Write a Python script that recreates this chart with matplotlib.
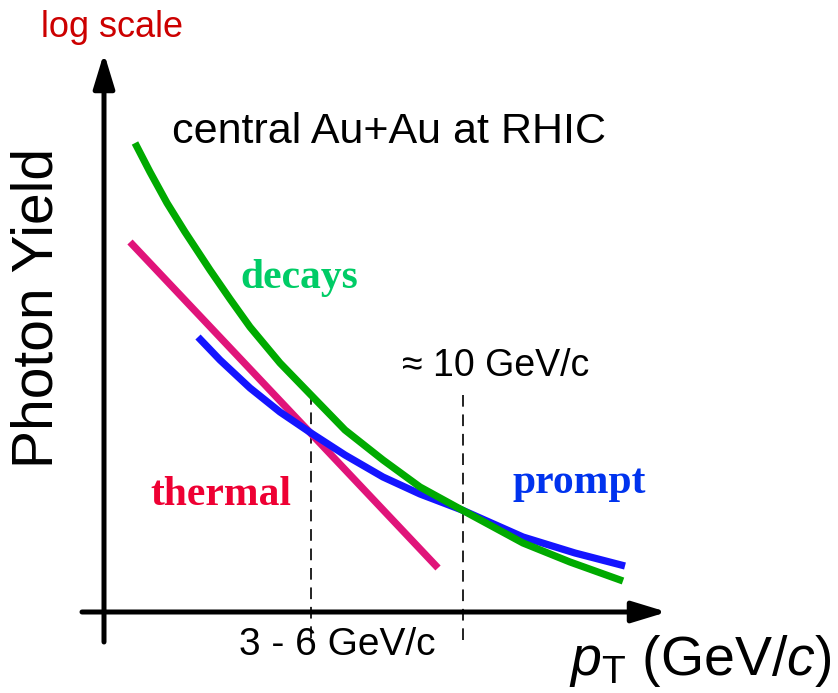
import matplotlib
matplotlib.use("Agg")
import matplotlib.pyplot as plt

# ---- schematic data (arbitrary units: x ~ pT, y ~ log yield) ----
decays_x = [0.62, 0.92, 1.26, 1.62, 2.12, 2.52, 2.92, 3.52, 4.14, 4.82,
            5.58, 6.32, 7.16, 8.38, 9.32, 10.38]
decays_y = [9.38, 8.80, 8.18, 7.60, 6.84, 6.26, 5.70, 4.98, 4.34, 3.64,
            3.04, 2.50, 2.04, 1.38, 1.00, 0.62]

prompt_x = [1.88, 2.32, 2.92, 3.52, 4.14, 4.82, 5.58, 6.32, 7.16, 8.38,
            9.42, 10.42]
prompt_y = [5.50, 5.04, 4.48, 4.00, 3.58, 3.14, 2.70, 2.36, 2.04, 1.50,
            1.18, 0.92]

thermal_x = [0.52, 6.68]
thermal_y = [7.40, 0.88]

marker_x = [4.14, 7.18]          # dashed guides (3-6 GeV/c, ~10 GeV/c)
marker_top = [4.38, 4.34]
marker_labels = ["3 - 6 GeV/c", "\u2248 10 GeV/c"]

plt.rcParams['font.family'] = ['Liberation Sans', 'DejaVu Sans']
plt.rcParams['mathtext.fontset'] = 'custom'
plt.rcParams['mathtext.rm'] = 'Liberation Sans'
plt.rcParams['mathtext.it'] = 'Liberation Sans:italic'

fig = plt.figure(figsize=(8.38, 6.93), dpi=100)
ax = fig.add_axes([0, 0, 1, 1])
ax.set_xlim(-2.08, 14.68)
ax.set_ylim(-1.62, 12.24)
ax.axis('off')

# axes arrows
arrow_kw = dict(arrowstyle='-|>,head_length=1.05,head_width=0.32',
                lw=3.6, color='black', mutation_scale=20,
                shrinkA=0, shrinkB=0)
ax.annotate('', xy=(11.26, 0), xytext=(-0.44, 0), arrowprops=arrow_kw)
ax.annotate('', xy=(0, 11.18), xytext=(0, -0.6), arrowprops=arrow_kw)

# dashed guides
for xm, yt in zip(marker_x, marker_top):
    ax.plot([xm, xm], [yt, -0.6], color='#222222', lw=1.4,
            dashes=(6, 4), zorder=1)

# curves
ax.plot(thermal_x, thermal_y, color='#e0147a', lw=5.2, solid_capstyle='butt', zorder=2)
ax.plot(prompt_x, prompt_y, color='#1414ff', lw=5.2, solid_capstyle='butt',
        solid_joinstyle='round', zorder=3)
ax.plot(decays_x, decays_y, color='#00aa00', lw=5.2, solid_capstyle='butt',
        solid_joinstyle='round', zorder=4)

# texts
ax.text(0.16, 11.5, 'log scale', color='#cc0000', fontsize=26,
        ha='center', va='baseline')
ax.text(1.36, 9.38, 'central Au+Au at RHIC', color='black', fontsize=31,
        ha='left', va='baseline')
ax.text(-1.32, 6.08, 'Photon Yield', color='black', fontsize=41,
        rotation=90, ha='center', va='center')
ax.text(14.56, -1.26, r'$p_{\mathrm{T}}$ (GeV/$c$)', color='black', fontsize=40,
        ha='right', va='baseline')
ax.text(4.66, -0.86, marker_labels[0], color='black', fontsize=28,
        ha='center', va='baseline')
ax.text(7.84, 4.72, marker_labels[1], color='black', fontsize=27,
        ha='center', va='baseline')

serif = ['Liberation Serif', 'DejaVu Serif']
ax.text(2.72, 6.48, 'decays', color='#00cc66', fontsize=30, fontweight='bold',
        family=serif, ha='left', va='baseline')
ax.text(0.92, 2.14, 'thermal', color='#ee0033', fontsize=30, fontweight='bold',
        family=serif, ha='left', va='baseline')
ax.text(8.16, 2.38, 'prompt', color='#0033ee', fontsize=30, fontweight='bold',
        family=serif, ha='left', va='baseline')

fig.savefig('out.png', dpi=100, facecolor='white')
